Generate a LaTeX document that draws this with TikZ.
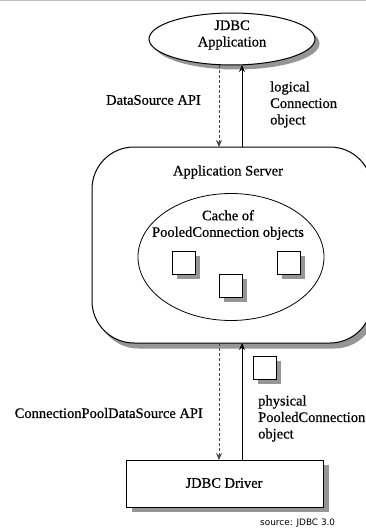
\documentclass[tikz,border=0pt]{standalone}
\usepackage{fontspec}
\setmainfont{Liberation Serif}[FakeBold=0.6]
\newfontfamily\srcfont{DejaVu Sans}
\usetikzlibrary{shapes.geometric,arrows.meta}
\definecolor{shadowgray}{RGB}{150,150,150}
\definecolor{framegray}{RGB}{190,190,190}
\tikzset{
  shadowfill/.style={fill=shadowgray},
  txt/.style={font=\fontsize{14.5}{16.5}\selectfont,inner sep=0pt},
  obj/.style={draw=black,line width=1pt,fill=white,minimum size=23pt,inner sep=0pt},
  solidarrow/.style={line width=0.9pt,-{Stealth[length=7pt,width=6pt,inset=2.5pt]}},
  dasharrow/.style={line width=0.9pt,draw=gray!55!black,dash pattern=on 3pt off 2pt,-{Stealth[length=7pt,width=6pt,inset=2.5pt]}},
}
\begin{document}
\begin{tikzpicture}[x=1pt,y=-1pt]
\useasboundingbox (0,0) rectangle (366,532);
\begin{scope}
\clip (0,0) rectangle (366,532);
\fill[white] (0,0) rectangle (366,532);
\draw[framegray,line width=1pt] (0,0.5) -- (366,0.5);

% shadows of the large shapes
\fill[shadowfill] (236.5,43.5) ellipse [x radius=83pt, y radius=26pt];
\fill[shadowfill,rounded corners=42pt] (96.5,151.5) rectangle (376.5,348.5);
\fill[shadowfill] (131.5,465) rectangle (328.5,512);
\fill[shadowfill] (258,361) rectangle (281,384);

% Application Server
\node[draw,line width=1pt,fill=white,rounded corners=42pt,minimum width=280pt,minimum height=196pt,inner sep=0pt] (server) at (232,245) {};
\end{scope}

% JDBC Application
\node[ellipse,draw,line width=1pt,fill=white,minimum width=166pt,minimum height=52pt,inner sep=0pt] (app) at (232,39) {};
\node[txt,align=center] (apptxt) at (232,35) {JDBC\\Application};

\node[txt] (servertxt) at (228,172) {Application Server};

% Cache
\node[ellipse,draw,line width=0.8pt,fill=white,minimum width=186pt,minimum height=127pt,inner sep=0pt] (cache) at (231,257) {};
\node[txt,align=center] (cachetxt) at (228,225) {Cache of\\PooledConnection objects};
\fill[shadowfill] (177,255.5) rectangle (200,278.5);
\fill[shadowfill] (223.5,279) rectangle (246.5,302);
\fill[shadowfill] (282,255.5) rectangle (305,278.5);
\node[obj] (o1) at (184,262.5) {};
\node[obj] (o2) at (230.5,286) {};
\node[obj] (o3) at (289,262.5) {};

% JDBC Driver
\node[draw,line width=1pt,fill=white,minimum width=197pt,minimum height=47pt,inner sep=0pt] (driver) at (224.5,483.5) {};
\node[txt] (drivertxt) at (224,483) {JDBC Driver};

% connectors
\coordinate (a1) at (219,65);
\coordinate (a2) at (242,65);
\coordinate (s1) at (219,147);
\coordinate (s2) at (242,147);
\coordinate (s3) at (219,343);
\coordinate (s4) at (242,343);
\coordinate (d1) at (219,460);
\coordinate (d2) at (242,460);
\draw[dasharrow] (a1) -- (s1);
\draw[solidarrow] (s2) -- (a2);
\draw[dasharrow] (s3) -- (d1);
\draw[solidarrow] (d2) -- (s4);

% physical object
\node[obj] (o4) at (265,368) {};

% labels
\node[txt,anchor=east] (dsapi) at (201,100) {DataSource API};
\node[txt,align=left,anchor=west] (logical) at (270,104.5) {logical\\Connection\\object};
\node[txt,anchor=east] (cpapi) at (203,413) {ConnectionPoolDataSource API};
\node[txt,align=left,anchor=west] (physical) at (258,418.5) {physical\\PooledConnection\\object};
\node[inner sep=0pt,anchor=west,font=\srcfont\fontsize{8.9}{10}\selectfont] (source) at (260,523) {source: JDBC 3.0};
\end{tikzpicture}
\end{document}
